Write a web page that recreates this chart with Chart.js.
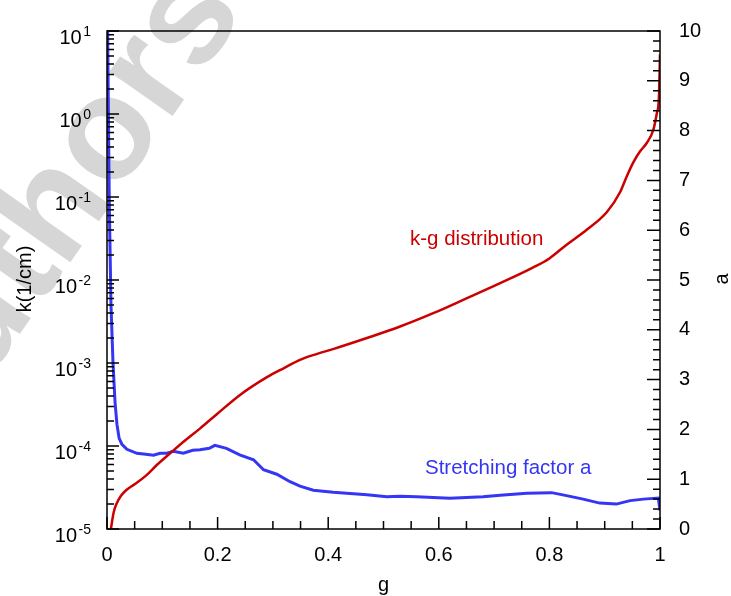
<!DOCTYPE html>
<html>
<head>
<meta charset="utf-8">
<script src="https://cdn.jsdelivr.net/npm/chart.js@4.4.1/dist/chart.umd.min.js"></script>
<style>
    body { margin: 0; background: #ffffff; }
    canvas { display: block; }
</style>
</head>
<body>
<canvas id="grafico" width="731" height="596"></canvas>
<script>
// curva k-g (eixo esquerdo, log)
const gK = [0.007, 0.012, 0.017, 0.025, 0.035, 0.05, 0.07, 0.09, 0.117, 0.14, 0.168, 0.198, 0.24, 0.29,
    0.32, 0.35, 0.38, 0.41, 0.47, 0.53, 0.59, 0.65, 0.71, 0.77, 0.80, 0.83, 0.867, 0.904, 0.928, 0.94,
    0.952, 0.964, 0.976, 0.988, 0.994, 0.998, 1.0];
const kVals = [1.0e-5, 1.58e-5, 2.0e-5, 2.5e-5, 2.95e-5, 3.47e-5, 4.37e-5, 5.9e-5, 8.5e-5, 1.15e-4, 1.62e-4,
    2.4e-4, 4.1e-4, 6.8e-4, 8.7e-4, 1.1e-3, 1.29e-3, 1.48e-3, 2.0e-3, 2.75e-3, 3.98e-3, 6.0e-3, 9.1e-3,
    1.41e-2, 1.82e-2, 2.63e-2, 4.0e-2, 6.6e-2, 0.115, 0.178, 0.263, 0.355, 0.447, 0.646, 1.0, 1.58, 5.2];

// fator de estiramento a (eixo direito)
const gA = [0.0012, 0.0024, 0.0042, 0.0072, 0.0108, 0.0145, 0.018, 0.022, 0.027, 0.036, 0.054, 0.07, 0.084,
    0.096, 0.108, 0.12, 0.138, 0.155, 0.168, 0.185, 0.195, 0.216, 0.24, 0.265, 0.283, 0.307, 0.331, 0.349,
    0.373, 0.409, 0.47, 0.506, 0.53, 0.56, 0.62, 0.68, 0.711, 0.759, 0.804, 0.831, 0.861, 0.891, 0.921,
    0.946, 0.97, 0.997, 1.0];
const aVals = [10.0, 8.5, 6.5, 4.5, 3.35, 2.55, 2.1, 1.82, 1.70, 1.60, 1.52, 1.50, 1.48, 1.52, 1.52, 1.56,
    1.52, 1.58, 1.59, 1.62, 1.68, 1.62, 1.49, 1.39, 1.19, 1.10, 0.95, 0.86, 0.78, 0.74, 0.69, 0.65, 0.66,
    0.65, 0.62, 0.65, 0.68, 0.72, 0.73, 0.67, 0.60, 0.52, 0.50, 0.57, 0.60, 0.62, 0.37];

const xTicks = [0, 0.2, 0.4, 0.6, 0.8, 1];
const aTicks = [0, 1, 2, 3, 4, 5, 6, 7, 8, 9, 10];
const kExpoentes = [-5, -4, -3, -2, -1, 0, 1];

const corVermelho = '#cc0000';
const corAzul = '#3535f5';
const fonte = 'Liberation Sans, Arial, Helvetica, sans-serif';

function pontos(xs, ys) {
    let lista = [];
    for (let i = 0; i < xs.length; i++) {
        lista.push({ x: xs[i], y: ys[i] });
    }
    return lista;
}

// marca d'agua cinza por baixo de tudo
const marcaDagua = {
    id: 'marcaDagua',
    beforeDraw(chart) {
        const ctx = chart.ctx;
        ctx.save();
        ctx.translate(110, 139);
        ctx.rotate(-55 * Math.PI / 180);
        ctx.font = 'bold 146px ' + fonte;
        ctx.fillStyle = '#d6d6d6';
        ctx.textBaseline = 'alphabetic';
        let offset = ctx.measureText('Auth').width + ctx.measureText('o').width / 2;
        ctx.fillText('Authors', -offset, 38);
        ctx.restore();
    }
};

// moldura, ticks para dentro, rotulos com expoente e textos
const moldura = {
    id: 'moldura',
    afterDatasetsDraw(chart) {
        const ctx = chart.ctx;
        const area = chart.chartArea;
        const sx = chart.scales.x;
        const sy = chart.scales.y;
        const sa = chart.scales.y2;

        ctx.save();
        ctx.strokeStyle = '#000';
        ctx.lineWidth = 1.5;
        ctx.strokeRect(area.left, area.top, area.right - area.left, area.bottom - area.top);

        ctx.beginPath();
        // eixo x: menores a cada 0.05
        for (let i = 0; i <= 20; i++) {
            let px = sx.getPixelForValue(i * 0.05);
            let len = (i % 4 == 0) ? 12 : 8;
            ctx.moveTo(px, area.bottom);
            ctx.lineTo(px, area.bottom - len);
        }
        // eixo a: menores a cada 0.2
        for (let i = 0; i <= 50; i++) {
            let py = sa.getPixelForValue(i * 0.2);
            let len = (i % 5 == 0) ? 13 : 7;
            ctx.moveTo(area.right, py);
            ctx.lineTo(area.right - len, py);
        }
        // eixo k log
        for (let e = -5; e <= 1; e++) {
            for (let m = 1; m <= 9; m++) {
                let v = m * Math.pow(10, e);
                if (v > 10) break;
                let py = sy.getPixelForValue(v);
                let len = (m == 1) ? 12 : 7;
                ctx.moveTo(area.left, py);
                ctx.lineTo(area.left + len, py);
            }
        }
        ctx.stroke();

        // rotulos 10^n
        ctx.fillStyle = '#000';
        ctx.textAlign = 'right';
        ctx.textBaseline = 'middle';
        for (let i = 0; i < kExpoentes.length; i++) {
            let py = sy.getPixelForValue(Math.pow(10, kExpoentes[i]));
            let exp = String(kExpoentes[i]);
            ctx.font = '14px ' + fonte;
            let wExp = ctx.measureText(exp).width;
            ctx.fillText(exp, 91, py + 1.5);
            ctx.font = '20px ' + fonte;
            ctx.fillText('10', 91 - wExp - 1.5, py + 7);
        }

        // titulos dos eixos
        ctx.font = '20px ' + fonte;
        ctx.textAlign = 'center';
        ctx.textBaseline = 'alphabetic';
        ctx.fillText('g', (area.left + area.right) / 2, 591);

        ctx.textBaseline = 'middle';
        ctx.save();
        ctx.translate(25, 279);
        ctx.rotate(-Math.PI / 2);
        ctx.fillText('k(1/cm)', 0, 0);
        ctx.restore();

        ctx.save();
        ctx.translate(722, 279);
        ctx.rotate(-Math.PI / 2);
        ctx.fillText('a', 0, 0);
        ctx.restore();

        // anotacoes das curvas
        ctx.font = '20.5px ' + fonte;
        ctx.textAlign = 'left';
        ctx.fillStyle = corVermelho;
        ctx.fillText('k-g distribution', 410, 239);
        ctx.fillStyle = corAzul;
        ctx.fillText('Stretching factor a', 425, 468);
        ctx.restore();
    }
};

const ctx = document.getElementById('grafico');

let grafico = new Chart(ctx, {
    type: 'line',
    data: {
        datasets: [{
            label: 'k-g distribution',
            data: pontos(gK, kVals),
            yAxisID: 'y',
            borderColor: corVermelho,
            borderWidth: 2.5,
            pointRadius: 0,
            cubicInterpolationMode: 'monotone',
            fill: false
        }, {
            label: 'Stretching factor a',
            data: pontos(gA, aVals),
            yAxisID: 'y2',
            borderColor: corAzul,
            borderWidth: 3,
            pointRadius: 0,
            tension: 0,
            fill: false
        }]
    },
    options: {
        responsive: false,
        animation: false,
        layout: { padding: { top: 23, left: 0, right: 0, bottom: 0 } },
        plugins: {
            legend: { display: false },
            tooltip: { enabled: false }
        },
        scales: {
            x: {
                type: 'linear',
                min: 0,
                max: 1,
                afterBuildTicks: function (scale) {
                    scale.ticks = xTicks.map(v => ({ value: v }));
                },
                ticks: {
                    color: '#000',
                    font: { family: fonte, size: 20 },
                    padding: 14,
                    maxRotation: 0,
                    autoSkip: false,
                    callback: function (valor) { return String(valor); }
                },
                grid: { display: false, drawTicks: false },
                border: { display: false },
                afterFit: function (scale) { scale.height = 67; }
            },
            y: {
                type: 'logarithmic',
                position: 'left',
                min: 1e-5,
                max: 10,
                ticks: { display: false },
                grid: { display: false, drawTicks: false },
                border: { display: false },
                afterFit: function (scale) { scale.width = 107; }
            },
            y2: {
                type: 'linear',
                position: 'right',
                min: 0,
                max: 10,
                afterBuildTicks: function (scale) {
                    scale.ticks = aTicks.map(v => ({ value: v }));
                },
                ticks: {
                    color: '#000',
                    font: { family: fonte, size: 20 },
                    padding: 19,
                    autoSkip: false
                },
                grid: { display: false, drawTicks: false },
                border: { display: false },
                afterFit: function (scale) { scale.width = 71; }
            }
        }
    },
    plugins: [marcaDagua, moldura]
});
</script>
</body>
</html>
